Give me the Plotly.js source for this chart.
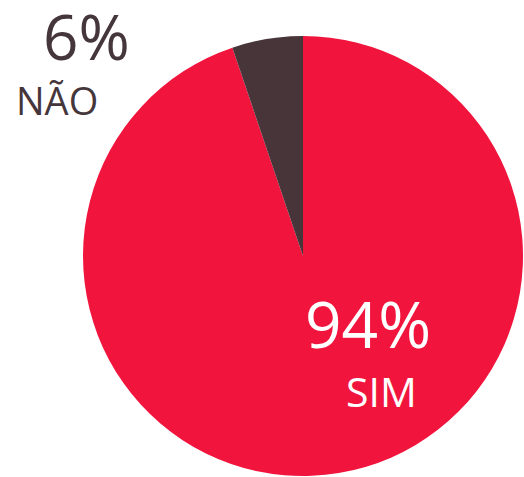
<!DOCTYPE html>
<html>
<head>
<meta charset="utf-8">
<script src="https://cdn.plot.ly/plotly-3.0.1.min.js"></script>
<style>
  html, body { margin: 0; padding: 0; background: #fff; }
  #chart { width: 524px; height: 477px; }
</style>
</head>
<body>
<div id="chart"></div>
<script>
// data
var labels = ['SIM', 'NÃO'];
var values = [94.8, 5.2];
var pctText = ['94%', '6%'];
var colors = ['#F1153D', '#47353A'];

var W = 524, H = 477;

// helper: pixel position -> paper coords
function px(x) { return x / W; }
function py(y) { return 1 - y / H; }

var trace = {
    type: 'pie',
    labels: labels,
    values: values,
    sort: false,
    direction: 'clockwise',
    rotation: 0,
    textinfo: 'none',
    hoverinfo: 'label+percent',
    marker: { colors: colors, line: { width: 0 } },
    domain: { x: [px(83), px(523)], y: [py(476), py(36)] }
};

var annotations = [
    // NÃO (outside, top left)
    { text: pctText[1], x: px(86), y: py(36), font: { size: 62, color: '#45363B' } },
    { text: labels[1], x: px(57), y: py(100), font: { size: 38, color: '#45363B' } },
    // SIM (inside, white)
    { text: pctText[0], x: px(368), y: py(323), font: { size: 64, color: '#ffffff' } },
    { text: labels[0], x: px(381), y: py(391), font: { size: 41, color: '#ffffff' } }
];
annotations.forEach(function (a) {
    a.xref = 'paper';
    a.yref = 'paper';
    a.showarrow = false;
    a.xanchor = 'center';
    a.yanchor = 'middle';
    a.font.family = 'Open Sans, sans-serif';
});

var layout = {
    width: W,
    height: H,
    margin: { t: 0, l: 0, r: 0, b: 0 },
    showlegend: false,
    paper_bgcolor: '#ffffff',
    annotations: annotations
};

Plotly.newPlot('chart', [trace], layout, { displayModeBar: false, staticPlot: true });
</script>
</body>
</html>
